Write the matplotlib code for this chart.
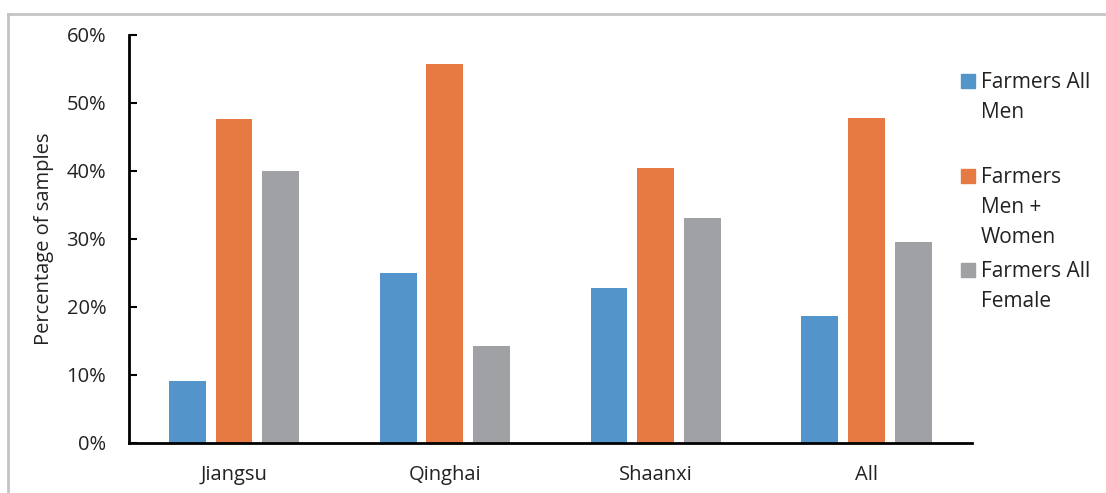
import matplotlib
matplotlib.use("Agg")
import matplotlib.pyplot as plt
from matplotlib.patches import Rectangle
from matplotlib.lines import Line2D
import numpy as np

plt.rcParams['font.family'] = ['Open Sans', 'DejaVu Sans']

# data
regions = ["Jiangsu", "Qinghai", "Shaanxi", "All"]
all_men = [9.0, 24.9, 22.7, 18.6]
men_women = [47.6, 55.6, 40.4, 47.8]
all_female = [40.0, 14.2, 33.0, 29.5]
series_labels = ["Farmers All\nMen", "Farmers\nMen +\nWomen", "Farmers All\nFemale"]
colors = ["#5394CA", "#E67A42", "#A0A1A5"]

fig = plt.figure(figsize=(11.06, 4.93), dpi=100)
ax = fig.add_axes([0.1162, 0.102, 0.7628, 0.828])

x = np.arange(len(regions))
w = 0.175
step = 0.222
for i, vals in enumerate([all_men, men_women, all_female]):
    ax.bar(x + (i - 1) * step, vals, width=w, color=colors[i], zorder=2)

ax.set_xlim(-0.5, len(regions) - 0.5)
ax.set_ylim(0, 60)
ax.set_yticks(np.arange(0, 61, 10))
ax.set_yticklabels([f"{v}%" for v in range(0, 61, 10)], fontsize=14.5, color="#222222")
ax.set_xticks(x)
ax.set_xticklabels(regions, fontsize=14.5, color="#222222")
ax.tick_params(axis="y", direction="in", length=6, width=1.5, pad=16)
ax.tick_params(axis="x", length=0, pad=16)
for s in ["top", "right"]:
    ax.spines[s].set_visible(False)
for s in ["left", "bottom"]:
    ax.spines[s].set_linewidth(2)
ax.set_ylabel("Percentage of samples", fontsize=14.5, color="#222222", labelpad=9)

# manual legend (uneven spacing as in the original)
W, H = 1106, 493
legend_rows = [81, 176, 270]
for lab, col, yy in zip(series_labels, colors, legend_rows):
    fig.patches.append(Rectangle((961 / W, 1 - (yy + 7) / H), 14 / W, 14 / H,
                                 transform=fig.transFigure, color=col))
    fig.text(981 / W, 1 - (yy - 9) / H, lab, fontsize=15, color="#222222",
             va="top", ha="left", linespacing=1.55)

# light frame around the figure
fig.add_artist(Line2D([8 / W, 1], [1 - 14 / H, 1 - 14 / H], transform=fig.transFigure,
                      color="#C4C4C8", lw=2))
fig.add_artist(Line2D([8 / W, 8 / W], [0, 1 - 14 / H], transform=fig.transFigure,
                      color="#C4C4C8", lw=2))

fig.savefig("out.png", dpi=100)
